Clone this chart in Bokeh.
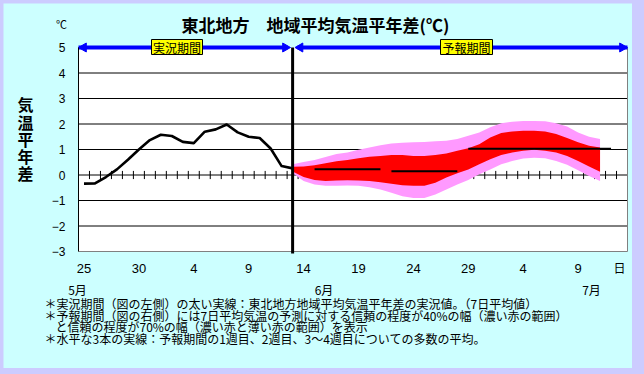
import math
from bokeh.plotting import figure
from bokeh.layouts import column
from bokeh.models import Range1d, FixedTicker, LinearAxis, Grid
from bokeh.core.properties import value
from bokeh.embed import file_html
from bokeh.resources import INLINE

# ---- data (day index 0 = 25 May) ----
obs_values = [-0.34, -0.33, -0.08, 0.22, 0.60, 1.00, 1.37, 1.58, 1.53, 1.30,
              1.25, 1.70, 1.79, 1.98, 1.67, 1.50, 1.45, 1.04, 0.35, 0.26]
obs_days = list(range(0, 20))

fc_days = list(range(19, 48))
pink_hi = [0.42, 0.51, 0.59, 0.71, 0.82, 0.88, 0.99, 1.08, 1.17, 1.24, 1.26, 1.28, 1.29, 1.32, 1.34,
           1.41, 1.54, 1.67, 1.87, 2.03, 2.09, 2.12, 2.12, 2.11, 2.03, 1.90, 1.67, 1.50, 1.41]
red_hi = [0.32, 0.33, 0.38, 0.46, 0.54, 0.59, 0.66, 0.72, 0.75, 0.78, 0.78, 0.75, 0.75, 0.78, 0.84,
          0.95, 1.05, 1.21, 1.47, 1.65, 1.71, 1.74, 1.74, 1.71, 1.61, 1.45, 1.28, 1.15, 1.08]
red_lo = [0.14, -0.08, -0.20, -0.24, -0.22, -0.21, -0.22, -0.24, -0.28, -0.34, -0.40, -0.42, -0.42, -0.30, -0.10,
          0.07, 0.22, 0.42, 0.62, 0.78, 0.88, 0.95, 0.99, 0.95, 0.88, 0.75, 0.55, 0.33, 0.13]
pink_lo = [0.08, -0.24, -0.37, -0.42, -0.42, -0.41, -0.42, -0.48, -0.57, -0.70, -0.83, -0.90, -0.90, -0.76, -0.57,
           -0.37, -0.20, 0.03, 0.22, 0.42, 0.55, 0.65, 0.68, 0.66, 0.55, 0.40, 0.19, -0.04, -0.24]

week_start = [21, 28, 35]
week_end = [27, 34, 48]
week_mean = [0.23, 0.15, 1.03]

boundary_day = 19
date_ticks = [0, 5, 10, 15, 20, 25, 30, 35, 40, 45]
date_labels = ["25", "30", "4", "9", "14", "19", "24", "29", "4", "9"]
month_labels = ["5月", "6月", "7月"]
zero_ticks = [i + 0.5 for i in range(49)]
y_ticks = [-3, -2, -1, 0, 1, 2, 3, 4, 5]
grid_values = [-2, -1, 0, 1, 2, 3, 4]
X0, X1 = -0.5, 49.5     # plotted day span
Y0, Y1 = -3, 5          # plotted anomaly span

title_text = "東北地方　地域平均気温平年差(℃)"
ytitle_chars = list("気温平年差")
notes = [
    "＊実況期間（図の左側）の太い実線：東北地方地域平均気温平年差の実況値。（7日平均値）",
    "＊予報期間（図の右側）には7日平均気温の予測に対する信頼の程度が40%の幅（濃い赤の範囲）",
    "と信頼の程度が70%の幅（濃い赤と薄い赤の範囲）を表示",
    "＊水平な3本の実線：予報期間の1週目、2週目、3～4週目についての多数の平均。",
]

# ---- layout helpers: reference pixel -> data coordinates ----
def dx(px):
    return X0 + (px - 78) * (X1 - X0) / 549.0

def dy(py):
    return Y1 - (py - 47) * (Y1 - Y0) / 204.0

CJK = "Noto Sans CJK JP"

p = figure(width=629, height=365, x_range=Range1d(dx(3), dx(632)), y_range=Range1d(dy(368), dy(3)),
           output_backend="svg", toolbar_location=None, x_axis_location=None, y_axis_location=None,
           min_border=0, min_border_left=0, min_border_right=0, min_border_top=0, min_border_bottom=0,
           border_fill_color="#ccffff", background_fill_color="#ccffff", outline_line_color=None)
for r in list(p.center):
    if isinstance(r, Grid):
        r.visible = False

# axes drawn at the plot-area edges
yaxis = LinearAxis(fixed_location=X0, bounds=(Y0, Y1), ticker=FixedTicker(ticks=y_ticks),
                   major_label_overrides={t: (("\u2212" + str(-t)) if t < 0 else str(t)) for t in y_ticks},
                   major_tick_line_color=None, minor_tick_line_color=None, major_tick_in=0, major_tick_out=0,
                   axis_line_color="black", major_label_standoff=13,
                   major_label_text_font="Liberation Sans", major_label_text_font_size="12px",
                   major_label_text_color="black")
p.add_layout(yaxis, "left")
xaxis = LinearAxis(fixed_location=Y0, bounds=(X0, X1), ticker=FixedTicker(ticks=date_ticks),
                   major_label_overrides=dict(zip(date_ticks, date_labels)),
                   major_tick_line_color=None, minor_tick_line_color=None, major_tick_in=0, major_tick_out=0,
                   axis_line_color=None, major_label_standoff=12,
                   major_label_text_font="Liberation Sans", major_label_text_font_size="13px",
                   major_label_text_color="black")
p.add_layout(xaxis, "below")
month_pos = [dx(77), dx(323.5), dx(591)]
month_axis = LinearAxis(fixed_location=Y0, bounds=(dx(60), X1), ticker=FixedTicker(ticks=month_pos),
                        major_label_overrides=dict(zip(month_pos, month_labels)),
                        major_tick_line_color=None, minor_tick_line_color=None, major_tick_in=0,
                        major_tick_out=0, axis_line_color=None, major_label_standoff=29,
                        major_label_text_font=CJK, major_label_text_font_size="12px",
                        major_label_text_color="black")
p.add_layout(month_axis, "below")

# white plot area, grid, edges
p.quad(left=[X0], right=[X1], bottom=[Y0], top=[Y1], fill_color="white", line_color=None)
p.segment(x0=[X0] * len(grid_values), y0=grid_values, x1=[X1] * len(grid_values), y1=grid_values,
          line_color="black", line_width=1)
p.segment(x0=[X0, X1], y0=[Y0, Y0], x1=[X1, X1], y1=[Y0, Y1], line_color="#808080", line_width=1)

# tick marks on the zero line
p.segment(x0=zero_ticks, y0=[-0.16] * len(zero_ticks), x1=zero_ticks, y1=[0.16] * len(zero_ticks),
          line_color="black", line_width=1)

# forecast bands
p.varea(x=fc_days, y1=pink_lo, y2=pink_hi, fill_color="#ff99ff")
p.varea(x=fc_days, y1=red_lo, y2=red_hi, fill_color="#ff0000")

# weekly mean lines
p.segment(x0=week_start, y0=week_mean, x1=week_end, y1=week_mean, line_color="black", line_width=2)

# observed line
p.line(obs_days, obs_values, line_color="black", line_width=2.6, line_join="round")

# boundary line
p.segment(x0=[boundary_day], y0=[dy(253)], x1=[boundary_day], y1=[Y1], line_color="black", line_width=3)

# blue period arrows
p.segment(x0=[X0, dx(297)], y0=[Y1, Y1], x1=[dx(287), X1], y1=[Y1, Y1], line_color="blue", line_width=4)
p.scatter(x=[dx(83.2), dx(284.8), dx(299.7), dx(621.8)], y=[Y1] * 4, marker="triangle", size=9,
          angle=[math.pi / 2, -math.pi / 2, math.pi / 2, -math.pi / 2],
          fill_color="blue", line_color="blue")

# period labels
p.quad(left=[dx(151), dx(440)], right=[dx(202), dx(492)], bottom=[dy(54)] * 2, top=[dy(39)] * 2,
       fill_color="yellow", line_color="black", line_width=1)
p.text(x=[dx(176.5), dx(466)], y=[dy(46.8)] * 2, text=["実況期間", "予報期間"],
       text_font=value(CJK), text_font_size=value("12px"), text_align="center", text_baseline="middle",
       text_color="black")

# title and unit
p.text(x=[dx(181)], y=[dy(24)], text=[title_text], text_font=value(CJK), text_font_size=value("17px"),
       text_font_style="bold", text_align="left", text_baseline="middle", text_color="black")
p.text(x=[dx(61)], y=[dy(23)], text=["℃"], text_font=value(CJK), text_font_size=value("11px"),
       text_align="center", text_baseline="middle", text_color="black")

# vertical y title
p.text(x=[dx(25)] * 5, y=[dy(v) for v in [103.5, 121, 138.5, 155.5, 172]], text=ytitle_chars,
       text_font=value(CJK), text_font_size=value("16px"), text_font_style="bold",
       text_align="center", text_baseline="middle", text_color="black")

# day unit
p.text(x=[dx(619)], y=[dy(266.5)], text=["日"], text_font=value(CJK), text_font_size=value("12px"),
       text_align="center", text_baseline="middle", text_color="black")

# footnotes
p.text(x=[dx(44), dx(44), dx(55), dx(44)], y=[dy(v) for v in [302.5, 314.5, 326, 337.5]], text=notes,
       text_font=value(CJK), text_font_size=value("12px"), text_align="left", text_baseline="middle",
       text_color="black")

layout = column(p, styles={"background-color": "#ccccff", "padding": "3px 12px 6px 3px"})

open("out.html", "w").write(file_html(layout, INLINE))
